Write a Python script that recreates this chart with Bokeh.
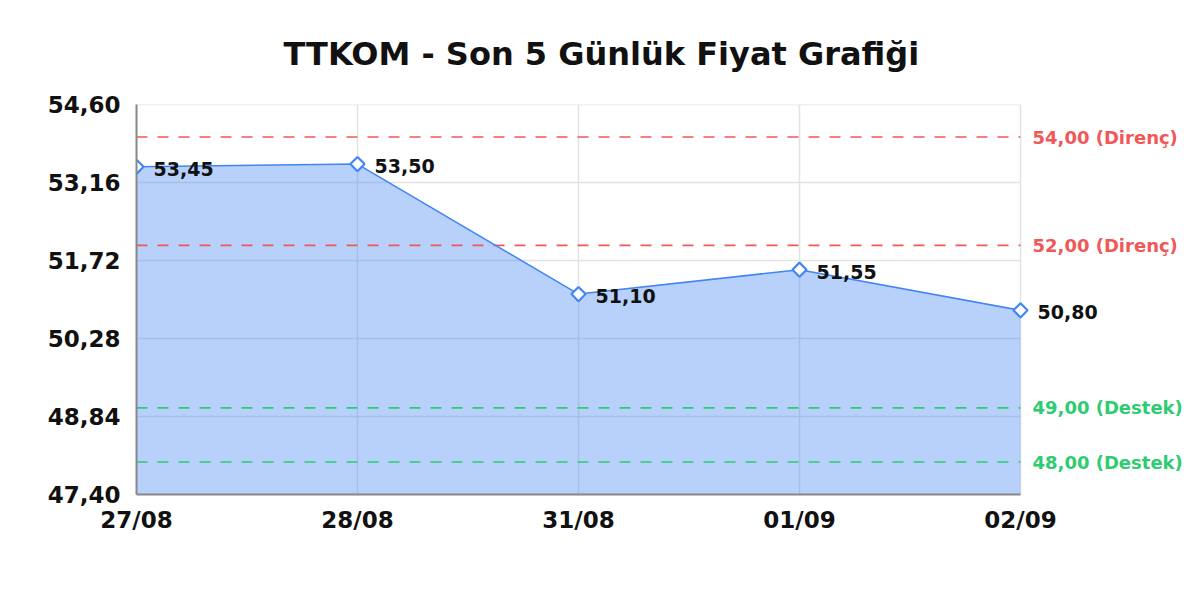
import math
from bokeh.plotting import figure
from bokeh.models import ColumnDataSource, FixedTicker
from bokeh.core.properties import value
from bokeh.embed import file_html
from bokeh.resources import INLINE

dates = ["27/08", "28/08", "31/08", "01/09", "02/09"]
prices = [53.45, 53.50, 51.10, 51.55, 50.80]
y_ticks = [47.40, 48.84, 50.28, 51.72, 53.16, 54.60]
resistance = [54.00, 52.00]
support = [49.00, 48.00]
title_text = "TTKOM - Son 5 Günlük Fiyat Grafiği"

def fmt(v):
    return f"{v:.2f}".replace(".", ",")

FONT = "DejaVu Sans"
BLUE = "#4285f4"
RED = "#f25757"
GREEN = "#2ecc71"
GRID = "#e3e3e3"

W, H = 1184, 584
LEFT, RIGHT_EDGE, TOP, BOTTOM = 136, 1020, 104, 494
xs = list(range(len(dates)))
x_last = xs[-1]
# frame extends to the figure's right edge so the side labels can be drawn in it
x_end = x_last * (W - LEFT) / (RIGHT_EDGE - LEFT)

src = ColumnDataSource(dict(x=xs, y=prices, base=[y_ticks[0]] * len(xs),
                            lbl=[fmt(v) for v in prices]))

p = figure(width=W, height=H, output_backend="svg", toolbar_location=None,
           x_range=(0, x_end), y_range=(y_ticks[0], y_ticks[-1]),
           min_border_left=LEFT, min_border_right=0, min_border_top=TOP,
           min_border_bottom=H - BOTTOM)
p.outline_line_color = None
p.background_fill_color = "white"
p.xgrid.visible = False
p.ygrid.visible = False

p.title.text = title_text
p.title.align = "left"
p.title.offset = 147
p.title.text_font = FONT
p.title.text_font_size = "32px"
p.title.text_font_style = "bold"
p.title.text_color = "#111111"
p.title.standoff = 64

# axes
p.xaxis.ticker = FixedTicker(ticks=xs)
p.xaxis.major_label_overrides = {i: d for i, d in enumerate(dates)}
p.xaxis.bounds = (0, x_last)
p.yaxis.ticker = FixedTicker(ticks=y_ticks)
p.yaxis.major_label_overrides = {v: fmt(v) for v in y_ticks}
for ax in (p.xaxis, p.yaxis):
    ax.major_tick_in = 0
    ax.major_tick_out = 0
    ax.minor_tick_in = 0
    ax.minor_tick_out = 0
    ax.axis_line_color = "#888888"
    ax.axis_line_width = 2
    ax.major_label_text_font = FONT
    ax.major_label_text_font_size = "23px"
    ax.major_label_text_font_style = "bold"
    ax.major_label_text_color = "#111111"
p.xaxis.major_label_standoff = 12
p.yaxis.major_label_standoff = 16

# grid lines limited to the data region
n_y = len(y_ticks)
p.segment(x0=[0] * n_y, x1=[x_last] * n_y, y0=y_ticks, y1=y_ticks,
          line_color=GRID, line_width=1.5)
p.segment(x0=xs, x1=xs, y0=[y_ticks[0]] * len(xs), y1=[y_ticks[-1]] * len(xs),
          line_color=GRID, line_width=1.5)

# area
p.varea(x="x", y1="base", y2="y", source=src, fill_color=BLUE, fill_alpha=0.38)

# support / resistance
def level_lines(levels, color, word):
    n = len(levels)
    p.segment(x0=[0] * n, x1=[x_last] * n, y0=levels, y1=levels,
              line_color=color, line_width=1.6, line_dash="11 10")
    p.text(x=[x_last] * n, y=levels, text=[f"{fmt(v)} ({word})" for v in levels],
           x_offset=12, text_baseline="middle", text_font=value(FONT),
           text_font_size="18px", text_font_style="bold", text_color=color)

level_lines(resistance, RED, "Direnç")
level_lines(support, GREEN, "Destek")

p.line(x="x", y="y", source=src, line_color=BLUE, line_width=1.5)
p.scatter(x="x", y="y", source=src, marker="square", angle=math.pi / 4, size=10,
          fill_color="white", line_color=BLUE, line_width=2.2)
p.text(x="x", y="y", text="lbl", source=src, x_offset=17, y_offset=2,
       text_baseline="middle", text_font=value(FONT), text_font_size="19px",
       text_font_style="bold", text_color="#111111")

open("out.html", "w").write(file_html(p, INLINE))
